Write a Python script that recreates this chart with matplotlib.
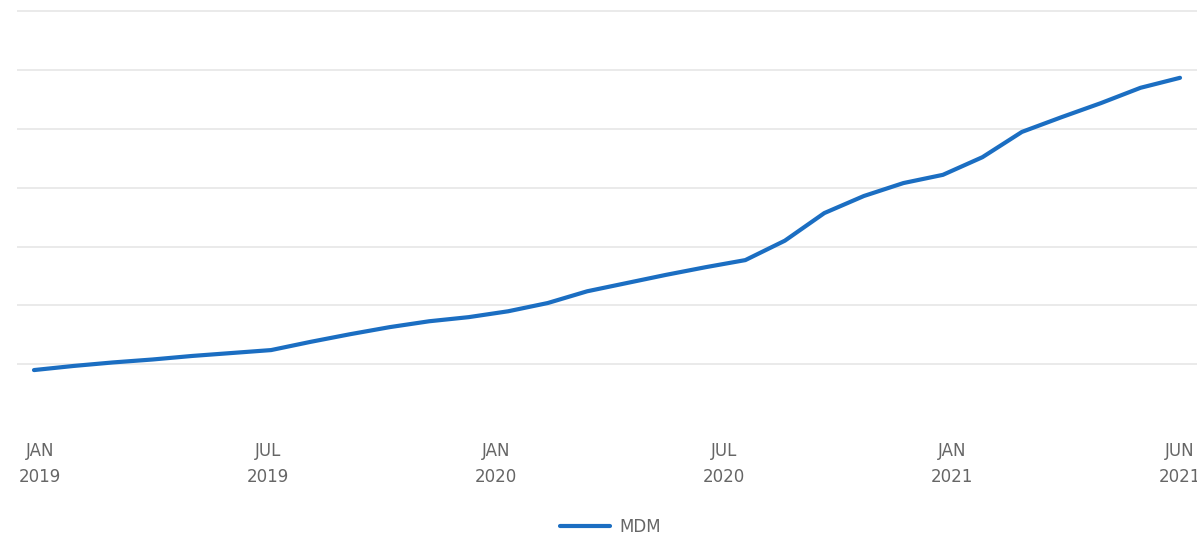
import matplotlib
matplotlib.use("Agg")
import matplotlib.pyplot as plt
import numpy as np

# monthly values, Jan 2019 .. Jun 2021 (no y labels in the source, units arbitrary)
months = list(range(30))
mdm = [9.0, 9.7, 10.3, 10.8, 11.4, 11.9, 12.4, 13.8, 15.1, 16.3,
       17.3, 18.0, 19.0, 20.4, 22.4, 23.8, 25.2, 26.5, 27.7, 31.0,
       35.7, 38.6, 40.8, 42.2, 45.2, 49.5, 52.0, 54.4, 57.0, 58.7]
tick_labels = ["JAN\n2019", "JUL\n2019", "JAN\n2020", "JUL\n2020", "JAN\n2021", "JUN\n2021"]
grid_values = [10, 20, 30, 40, 50, 60, 70]

line_color = "#1b6ec2"
text_color = "#666666"

fig = plt.figure(figsize=(11.97, 5.41), dpi=100)
ax = fig.add_axes([17 / 1197, 118 / 541, 1180 / 1197, 414 / 541])

ax.plot(months, mdm, color=line_color, linewidth=3.0, solid_capstyle="round",
        label="MDM", zorder=3)

ax.set_xlim(-0.43, 29.43)
ax.set_ylim(0, 70.4)
ax.set_yticks(grid_values)
ax.yaxis.grid(True, color="#e6e6e6", linewidth=1.2)
ax.tick_params(axis="y", left=False, labelleft=False)

ax.set_xticks(np.linspace(0.15, 29, len(tick_labels)))
ax.set_xticklabels(tick_labels, fontsize=12, color=text_color, linespacing=1.6)
ax.tick_params(axis="x", bottom=False, pad=10)

for s in ax.spines.values():
    s.set_visible(False)

fig.legend(loc="lower center", bbox_to_anchor=(0.51, -0.018), frameon=False,
           fontsize=12, labelcolor=text_color, handlelength=3.0, handletextpad=0.6)

fig.savefig("out.png", dpi=100)
